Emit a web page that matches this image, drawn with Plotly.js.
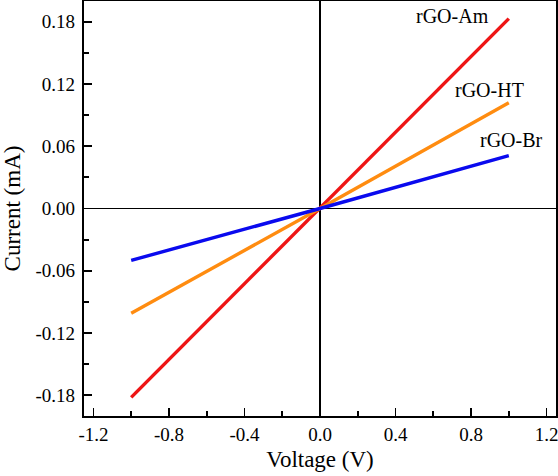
<!DOCTYPE html>
<html>
<head>
<meta charset="utf-8">
<script src="https://cdn.plot.ly/plotly-3.0.1.min.js"></script>
<style>html,body{margin:0;padding:0;background:#fff;}#chart{width:558px;height:476px;}</style>
</head>
<body>
<div id="chart"></div>
<script>
// Data
const voltage = [-1.0, 0.0, 1.0];
const currentAm = [-0.182, 0.0, 0.183];
const currentHT = [-0.101, 0.0, 0.102];
const currentBr = [-0.050, 0.0, 0.051];
const seriesNames = ['rGO-Am', 'rGO-HT', 'rGO-Br'];
const seriesColors = ['#ee1515', '#ff8c10', '#0a0aee'];
const labelPos = [[0.70, 0.186], [0.90, 0.114], [1.012, 0.066]];

const xTickVals = [-1.2, -0.8, -0.4, 0.0, 0.4, 0.8, 1.2];
const xTickText = ['-1.2', '-0.8', '-0.4', '0.0', '0.4', '0.8', '1.2'];
const xMinorVals = [-1.0, -0.6, -0.2, 0.2, 0.6, 1.0];
const yTickVals = [-0.18, -0.12, -0.06, 0.0, 0.06, 0.12, 0.18];
const yTickText = ['-0.18', '-0.12', '-0.06', '0.00', '0.06', '0.12', '0.18'];
const yMinorVals = [-0.15, -0.09, -0.03, 0.03, 0.09, 0.15];

const ys = [currentAm, currentHT, currentBr];
const traces = ys.map((y, i) => ({
  x: voltage, y: y, type: 'scatter', mode: 'lines', name: seriesNames[i],
  line: {color: seriesColors[i], width: 3.4}, showlegend: false
}));

const font = {family: 'Liberation Serif, Times New Roman, serif', color: '#000'};

const layout = {
  width: 558, height: 476,
  margin: {l: 84, r: 2, t: 1, b: 60},
  paper_bgcolor: '#fff', plot_bgcolor: '#fff',
  font: Object.assign({size: 19}, font),
  xaxis: {
    range: [-1.25, 1.25], showgrid: false,
    zeroline: true, zerolinecolor: '#000', zerolinewidth: 1.8,
    showline: true, mirror: true, linecolor: '#000', linewidth: 2.2,
    ticks: 'inside', ticklen: 8, tickwidth: 1.8, tickcolor: '#000',
    tickmode: 'array', tickvals: xTickVals, ticktext: xTickText,
    ticklabeloverflow: 'allow',
    tickfont: Object.assign({size: 19}, font),
    minor: {tickmode: 'array', tickvals: xMinorVals, ticks: 'inside', ticklen: 5, tickwidth: 1.8, tickcolor: '#000', showgrid: false},
    title: {text: 'Voltage (V)', font: Object.assign({size: 23}, font), standoff: 7}
  },
  yaxis: {
    range: [-0.2, 0.2], showgrid: false,
    zeroline: true, zerolinecolor: '#000', zerolinewidth: 1.8,
    showline: true, mirror: true, linecolor: '#000', linewidth: 2.2,
    ticks: 'inside', ticklen: 8, tickwidth: 1.8, tickcolor: '#000',
    tickmode: 'array', tickvals: yTickVals, ticktext: yTickText,
    ticklabeloverflow: 'allow', ticklabelstandoff: 3,
    tickfont: Object.assign({size: 19}, font),
    minor: {tickmode: 'array', tickvals: yMinorVals, ticks: 'inside', ticklen: 5, tickwidth: 1.8, tickcolor: '#000', showgrid: false},
    title: {text: 'Current (mA)', font: Object.assign({size: 23}, font), standoff: 10}
  },
  annotations: seriesNames.map((n, i) => ({
    x: labelPos[i][0], y: labelPos[i][1], xref: 'x', yref: 'y',
    text: n, showarrow: false, xanchor: 'center', yanchor: 'middle',
    font: Object.assign({size: 20}, font)
  }))
};

Plotly.newPlot('chart', traces, layout, {staticPlot: true, displayModeBar: false});
</script>
</body>
</html>
